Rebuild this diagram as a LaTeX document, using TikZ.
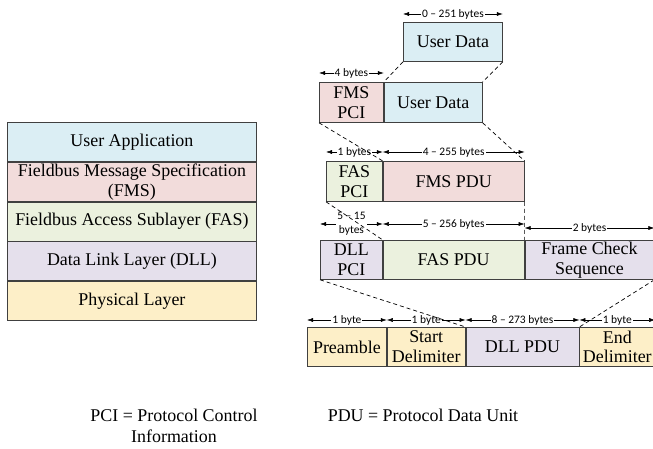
\documentclass[tikz,border=0pt]{standalone}
\usepackage{fontspec}
\setmainfont{Liberation Serif}
\newfontfamily\dimfont{Carlito}
\usepackage{xcolor}
\usetikzlibrary{arrows.meta,positioning}

\definecolor{udblue}{HTML}{DBEEF4}
\definecolor{fmspink}{HTML}{F2DCDB}
\definecolor{fasgreen}{HTML}{EBF1DE}
\definecolor{dllpurple}{HTML}{E5E0EC}
\definecolor{phyyellow}{HTML}{FDEFC8}
\definecolor{edge}{HTML}{404040}

\tikzset{
	blk/.style={draw=edge, line width=0.8bp, minimum height=39bp, inner sep=0pt, align=center,
		font=\fontsize{18}{20}\selectfont, anchor=north west},
	dim/.style={<->, line width=0.5bp},
	dimlbl/.style={fill=white, inner sep=1bp, align=center, font=\dimfont\fontsize{11.5}{14}\selectfont},
	link/.style={line width=0.7bp, dash pattern=on 4bp off 3bp}
}

\begin{document}
\begin{tikzpicture}[x=1bp,y=-1bp,>={Latex[length=6bp,width=4bp]}]
	\useasboundingbox (0,0) rectangle (653,449);

	% layer stack
	\node (ua) at (7,122) [blk, fill=udblue, minimum width=249bp] {User Application};
	\node (fms) [blk, fill=fmspink, minimum width=249bp, below=0bp of ua] {Fieldbus Message Specification\\(FMS)};
	\node (fas) [blk, fill=fasgreen, minimum width=249bp, below=0bp of fms] {Fieldbus Access Sublayer (FAS)};
	\node (dll) [blk, fill=dllpurple, minimum width=249bp, below=0bp of fas] {Data Link Layer (DLL)};
	\node (phy) [blk, fill=phyyellow, minimum width=249bp, below=0bp of dll] {Physical Layer};

	% frames
	\node (ud) at (403,22) [blk, fill=udblue, minimum width=99bp] {User Data};

	\node (fmspci) at (319,82) [blk, fill=fmspink, minimum width=64bp, minimum height=40bp] {FMS\\PCI};
	\node (ud2) [blk, fill=udblue, minimum width=98bp, minimum height=40bp, right=0bp of fmspci] {User Data};

	\node (faspci) at (326,161) [blk, fill=fasgreen, minimum width=56bp, minimum height=40bp] {FAS\\PCI};
	\node (fmspdu) [blk, fill=fmspink, minimum width=141bp, minimum height=40bp, right=0bp of faspci] {FMS PDU};

	\node (dllpci) at (320,240) [blk, fill=dllpurple, minimum width=62bp] {DLL\\PCI};
	\node (faspdu) [blk, fill=fasgreen, minimum width=141bp, right=0bp of dllpci] {FAS PDU};
	\node (fcs) [blk, fill=dllpurple, minimum width=129bp, right=0bp of faspdu] {Frame Check\\Sequence};

	\node (pre) at (307,327) [blk, fill=phyyellow, minimum width=79bp] {Preamble};
	\node (sd) [blk, fill=phyyellow, minimum width=78bp, right=0bp of pre] {Start\\Delimiter};
	\node (dllpdu) [blk, fill=dllpurple, minimum width=113bp, right=0bp of sd] {DLL PDU};
	\node (ed) [blk, fill=phyyellow, minimum width=75bp, right=0bp of dllpdu] {End\\Delimiter};

	% sizes
	\draw [dim] ([yshift=8bp]ud.north west) -- node[dimlbl] {0 – 251 bytes} ([yshift=8bp]ud.north east);
	\draw [dim] ([yshift=9bp]fmspci.north west) -- node[dimlbl] {4 bytes} ([yshift=9bp]fmspci.north east);
	\draw [dim] ([yshift=9bp]faspci.north west) -- node[dimlbl] {1 bytes} ([yshift=9bp]faspci.north east);
	\draw [dim] ([yshift=9bp]fmspdu.north west) -- node[dimlbl] {4 – 255 bytes} ([yshift=9bp]fmspdu.north east);
	\draw [dim] ([yshift=16bp]dllpci.north west) -- node[dimlbl] {5 – 15\\bytes} ([yshift=16bp]dllpci.north east);
	\draw [dim] ([yshift=16bp]faspdu.north west) -- node[dimlbl] {5 – 256 bytes} ([yshift=16bp]faspdu.north east);
	\draw [dim] ([yshift=12bp]fcs.north west) -- node[dimlbl] {2 bytes} ([yshift=12bp]fcs.north east);
	\draw [dim] ([yshift=7bp]pre.north west) -- node[dimlbl] {1 byte} ([yshift=7bp]pre.north east);
	\draw [dim] ([yshift=7bp]sd.north west) -- node[dimlbl] {1 byte} ([yshift=7bp]sd.north east);
	\draw [dim] ([yshift=7bp]dllpdu.north west) -- node[dimlbl] {8 – 273 bytes} ([yshift=7bp]dllpdu.north east);
	\draw [dim] ([yshift=7bp]ed.north west) -- node[dimlbl] {1 byte} ([yshift=7bp]ed.north east);

	% encapsulation
	\draw [link] (ud.south west) -- (ud2.north west);
	\draw [link] (ud.south east) -- (ud2.north east);
	\draw [link] (fmspci.south west) -- (fmspdu.north west);
	\draw [link] (ud2.south east) -- (fmspdu.north east);
	\draw [link] (faspci.south west) -- (faspdu.north west);
	\draw [link] (fmspdu.south east) -- (faspdu.north east);
	\draw [link] (dllpci.south west) -- (dllpdu.north west);
	\draw [link] (fcs.south east) -- (dllpdu.north east);

	% legend
	\node (pcinote) at (174,426) [align=center, font=\fontsize{18}{21}\selectfont] {PCI = Protocol Control\\Information};
	\node (pdunote) at (423,415) [font=\fontsize{18}{21}\selectfont] {PDU = Protocol Data Unit};
\end{tikzpicture}
\end{document}
